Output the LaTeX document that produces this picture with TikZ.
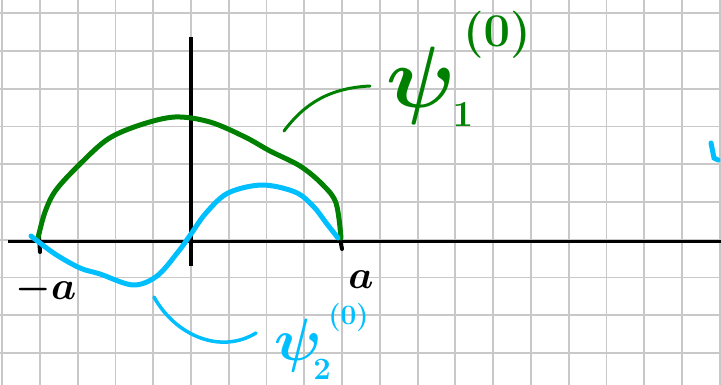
\documentclass[tikz,border=0pt]{standalone}
\usepackage{graphicx}
\usepackage{tikz}
\definecolor{pgreen}{RGB}{0,128,0}
\definecolor{pblue}{RGB}{0,191,255}
\definecolor{gridgray}{RGB}{200,200,200}
\tikzset{
  gridline/.style={draw=gridgray, line width=1.8pt},
  axis/.style={draw=black, line width=3.5pt},
  gcurve/.style={draw=pgreen, line width=5pt, line cap=round, line join=round},
  bcurve/.style={draw=pblue, line width=5pt, line cap=round, line join=round},
  gpointer/.style={draw=pgreen, line width=3pt, line cap=round},
  bpointer/.style={draw=pblue, line width=3.5pt, line cap=round},
  lbl/.style={inner sep=0pt},
}
\begin{document}
\begin{tikzpicture}[x=1pt,y=-1pt]
\useasboundingbox[fill=white] (0,0) rectangle (721,385);
% grid
\foreach \k in {0,...,19} {\draw[gridline] ({2.24+37.76*\k},0) -- ({2.24+37.76*\k},385);}
\foreach \k in {0,...,9} {\draw[gridline] (0,{13.3+37.74*\k}) -- (721,{13.3+37.74*\k});}
% axes
\coordinate (xl) at (8,241.5);
\coordinate (xr) at (721,241.5);
\coordinate (yt) at (191,37);
\coordinate (yb) at (191,266);
\draw[axis] (xl) -- (xr);
\draw[axis] (yt) -- (yb);
\draw[black, line width=4pt, line cap=round] (39,236) -- (40,252);
\draw[black, line width=4pt, line cap=round] (340,238) -- (342,249);
% green curve psi_1
\draw[gcurve] plot[smooth, tension=0.55] coordinates {(38,238) (45,212) (56,190) (80,164) (108,139) (140,125) (175,117) (210,122) (245,137) (270,151) (300,166) (322,184) (336,203) (341,238)};
% blue curve psi_2
\draw[bcurve] plot[smooth, tension=0.55] coordinates {(31,236) (55,254) (80,268) (100,274) (133,285) (157,276) (178,252) (191,234) (206,213) (228,193) (262,185) (295,192) (313,206) (327,224) (338,238)};
% pointers
\coordinate (g1) at (284,131);
\coordinate (g2) at (370,86);
\draw[gpointer] (g1) .. controls (305,103) and (330,88) .. (g2);
\coordinate (b1) at (154,297);
\coordinate (b2) at (256,333);
\draw[bpointer] (b1) .. controls (175,335) and (220,355) .. (b2);
% labels
\node[lbl, anchor=base] (lma) at (46,299) {\scalebox{1.6}{\Huge\boldmath$-a$}};
\node[lbl, anchor=base] (lpa) at (361,288) {\scalebox{1.6}{\Huge\boldmath$a$}};
\node[lbl, text=pgreen, anchor=base west] (psi1) at (386,108) {\scalebox{3.5}{\Huge\boldmath$\psi$\rlap{\kern-0.8pt\raisebox{-5.4pt}{\scalebox{0.42}{$1$}}}\kern2.2pt\raisebox{17.5pt}{\scalebox{0.54}{$(0)$}}}};
\node[lbl, text=pblue, anchor=base west] (psi2) at (274,360) {\scalebox{2.4}{\Huge\boldmath$\psi$\rlap{\kern-3.5pt\raisebox{-8pt}{\scalebox{0.52}{$2$}}}\kern2.8pt\raisebox{14.8pt}{\scalebox{0.47}{$(0)$}}}};
% stray blue stroke at right edge
\draw[bpointer, line width=5pt] (711,143) -- (714,158) -- (718,160);
\end{tikzpicture}
\end{document}
